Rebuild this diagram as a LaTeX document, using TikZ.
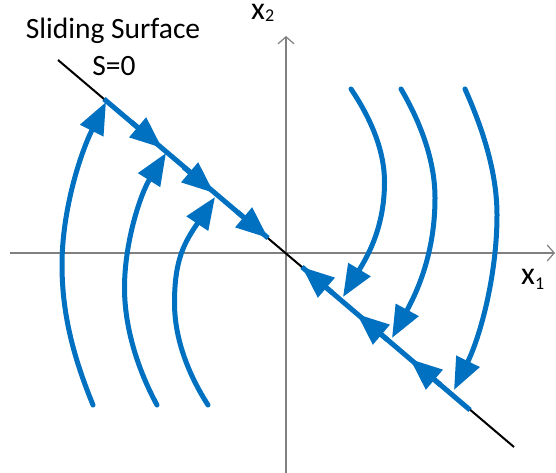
\documentclass[tikz,border=0pt]{standalone}
\usepackage{fontspec}
\setmainfont{Carlito}
\usetikzlibrary{arrows.meta}
\definecolor{ppblue}{RGB}{0,112,192}
\definecolor{axgray}{RGB}{128,128,128}
\begin{document}
\begin{tikzpicture}[x=1pt,y=-1pt,
  axis/.style={draw=axgray,line width=1.2pt,-{Straight Barb[length=7pt,width=16pt]}},
  surface/.style={draw=black,line width=2pt},
  flow/.style={draw=ppblue,line width=5pt},
  flowarrow/.style={draw=ppblue,line width=5pt,-{Triangle[length=32pt,width=25pt]}},
  traj/.style={flowarrow,line cap=round},
  lbl/.style={font=\fontsize{29.5}{34}\selectfont,inner sep=0pt},
  axlbl/.style={font=\fontsize{32}{36}\selectfont,inner sep=0pt}]
\useasboundingbox (0,0) rectangle (556,473);
% axes
\coordinate (xL) at (10,253);
\coordinate (xR) at (555,253);
\coordinate (yB) at (286,473);
\coordinate (yT) at (286,36);
\draw[axis] (xL) -- (xR);
\draw[axis] (yB) -- (yT);
% sliding surface
\coordinate (sA) at (58,60);
\coordinate (sB) at (514,447);
\draw[surface] (sA) -- (sB);
% blue segments on the surface
\coordinate (u1) at (104,99);
\coordinate (u2) at (268,238);
\coordinate (l1) at (302,267);
\coordinate (l2) at (470,410);
\draw[flow] (u1) -- (u2);
\draw[flow] (l1) -- (l2);
% arrowheads on surface (downward-right on upper part)
\foreach \tx/\ty in {162/148, 214/193, 268/238}{
  \draw[flowarrow] (\tx-30.5,\ty-25.9) -- (\tx,\ty);
}
% arrowheads on surface (up-left on lower part)
\foreach \tx/\ty in {302/267, 357/314, 410/359}{
  \draw[flowarrow] (\tx+30.5,\ty+25.9) -- (\tx,\ty);
}
% left trajectories
\coordinate (a1s) at (93,405);  \coordinate (a1m) at (62,265);    \coordinate (a1e) at (106,102);
\coordinate (a2s) at (157,405); \coordinate (a2m) at (124.5,288); \coordinate (a2e) at (166,153);
\coordinate (a3s) at (208,405); \coordinate (a3m) at (174.5,303); \coordinate (a3e) at (215,197);
\draw[traj] (a1s) .. controls (74,358.5) and (62,315) .. (a1m)
                  .. controls (62,209) and (81,152) .. (a1e);
\draw[traj] (a2s) .. controls (138,370) and (124.5,328) .. (a2m)
                  .. controls (124.5,241) and (141,193) .. (a2e);
\draw[traj] (a3s) .. controls (188.6,374.8) and (174.5,339) .. (a3m)
                  .. controls (174.5,258) and (185,242) .. (a3e);
% right trajectories
\coordinate (b1s) at (351,89);  \coordinate (b1m) at (384.5,182); \coordinate (b1e) at (343,297);
\coordinate (b2s) at (401,89);  \coordinate (b2m) at (435,198);   \coordinate (b2e) at (392,338);
\coordinate (b3s) at (465,89);  \coordinate (b3m) at (497,215);   \coordinate (b3e) at (454,390);
\draw[traj] (b1s) .. controls (369.5,116.4) and (384.5,149) .. (b1m)
                  .. controls (384.5,228) and (367,257) .. (b1e);
\draw[traj] (b2s) .. controls (420.2,121.8) and (435,160) .. (b2m)
                  .. controls (435,252) and (418,290) .. (b2e);
\draw[traj] (b3s) .. controls (482.5,128.3) and (497,172) .. (b3m)
                  .. controls (497,275) and (480.4,336) .. (b3e);
% labels
\node[lbl,anchor=base] (title) at (113,39) {Sliding Surface};
\node[lbl,anchor=base] (szero) at (114,76) {S=0};
\node[axlbl,anchor=base west] (xtwo) at (251,20) {x\raisebox{-2pt}{\fontsize{18}{18}\selectfont 2}};
\node[axlbl,anchor=base west] (xone) at (521,284) {x\raisebox{-5pt}{\fontsize{18}{18}\selectfont 1}};
\end{tikzpicture}
\end{document}
